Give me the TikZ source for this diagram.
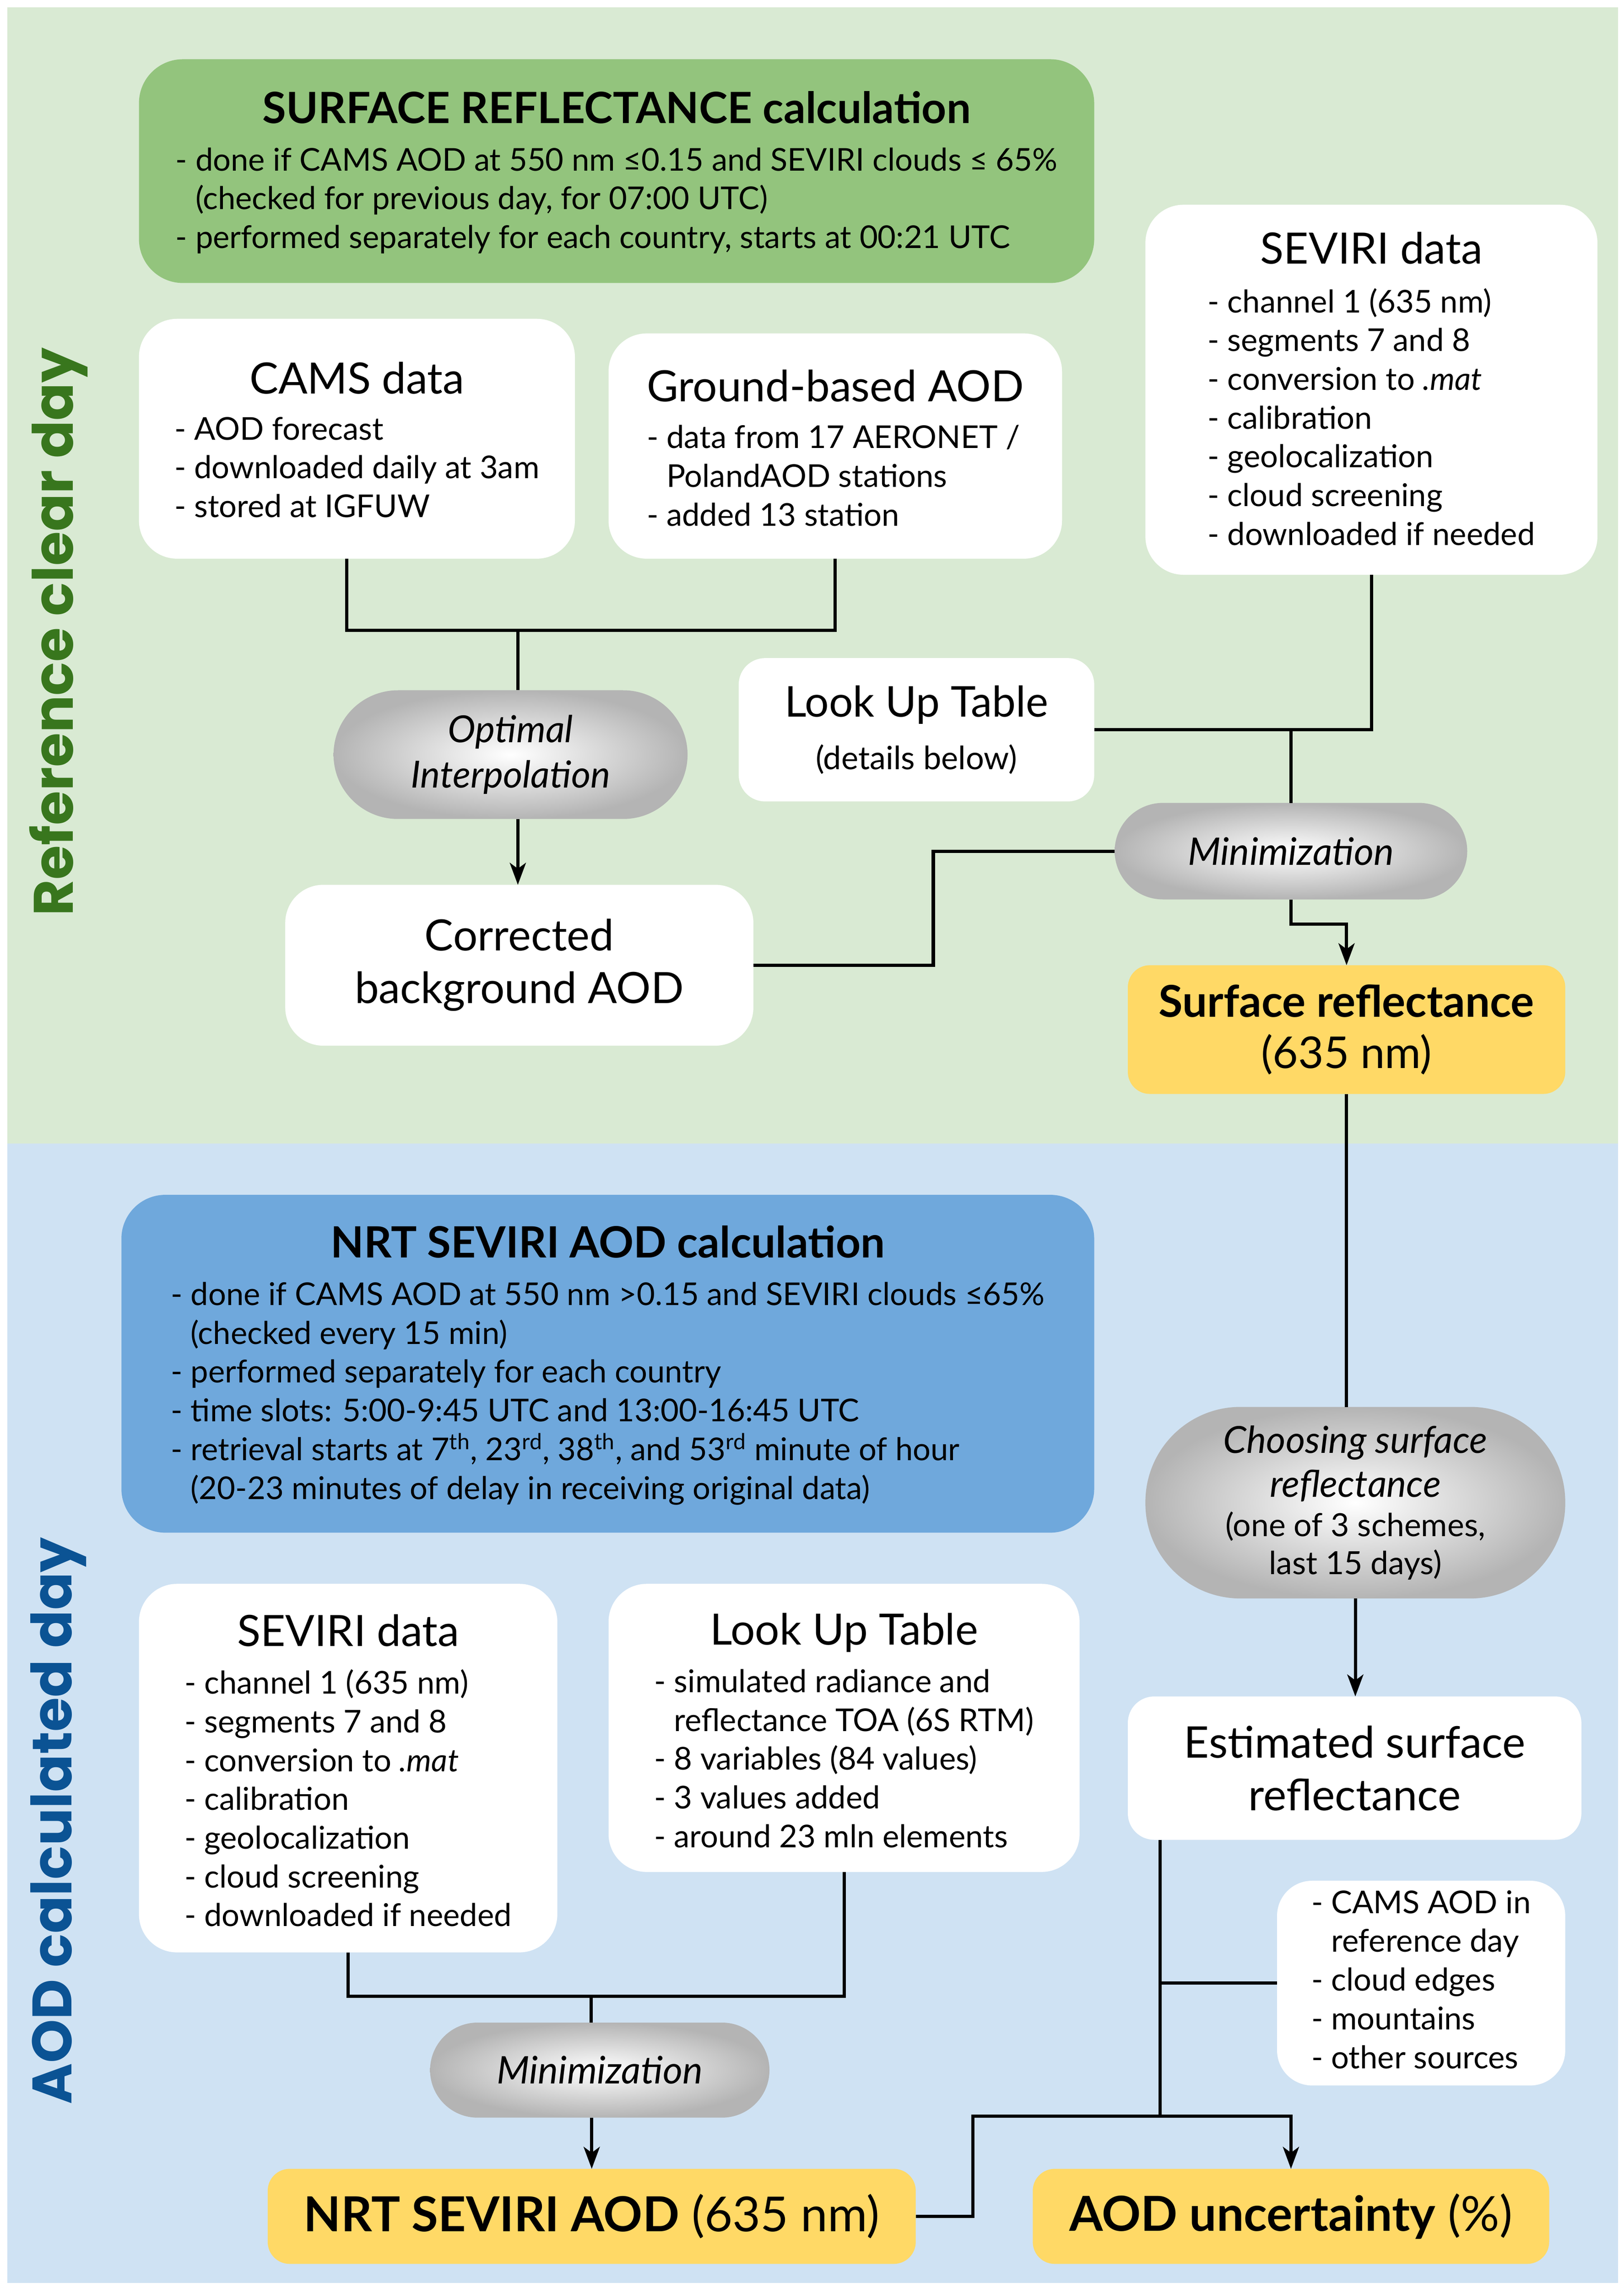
\documentclass[tikz,border=0pt]{standalone}
\usepackage{fontspec}
\setmainfont{Lato}
\newfontfamily\sidefont{Poppins}
\usetikzlibrary{arrows.meta}

\definecolor{bggreen}{HTML}{D9EAD3}
\definecolor{bgblue}{HTML}{CFE2F3}
\definecolor{ttlgreen}{HTML}{93C47D}
\definecolor{ttlblue}{HTML}{6FA8DC}
\definecolor{resyellow}{HTML}{FFD966}
\definecolor{sidegreen}{HTML}{38761D}
\definecolor{sideblue}{HTML}{0B5394}
\definecolor{pillgray}{HTML}{B4B4B4}

\newcommand{\ttl}{\fontsize{29.5}{34}\selectfont}
\newcommand{\cont}{\phantom{- }}
\newcommand{\smallpar}{\upshape\fontsize{21.8}{26}\selectfont}
\newcommand{\boxlist}[4][31pt]{\begin{tabular}{@{}l@{}}\multicolumn{1}{@{}c@{}}{\rule{0pt}{#1}#2}\\[#3]#4\end{tabular}}

\begin{document}
\begin{tikzpicture}[x=1pt,y=-1pt,
  line width=2.2pt,
  wbox/.style={fill=white, rounded corners=26pt, outer sep=0pt, inner sep=0pt},
  ttlbox/.style={rounded corners=30pt, outer sep=0pt, inner sep=0pt},
  ybox/.style={fill=resyellow, rounded corners=15pt, outer sep=0pt, inner sep=0pt},
  pill/.style={shading=radial, inner color=white, outer color=pillgray, outer sep=0pt, inner sep=0pt},
  body/.style={font=\fontsize{21.5}{26.5}\selectfont},
  arr/.style={-{Stealth[length=15pt,width=11pt,inset=4pt]}}]

% panels
\useasboundingbox[fill=white] (0,0) rectangle (1110,1564.5);
\fill[bggreen] (5,5) rectangle (1106,782);
\fill[bgblue] (5,782) rectangle (1106,1561);

\node[rotate=90, text=sidegreen, font=\sidefont\bfseries\fontsize{38}{38}\selectfont] (refday) at (40,432) {Reference clear day};
\node[rotate=90, text=sideblue, font=\sidefont\bfseries\fontsize{38}{38}\selectfont] (aodday) at (40,1245) {AOD calculated day};

% reference clear day
\node[ttlbox, fill=ttlgreen, minimum width=653pt, minimum height=153pt, body] (srcalc) at (421.5,117)
  {\boxlist[28pt]{\ttl\bfseries SURFACE REFLECTANCE calculation}{6pt}{%
   - done if CAMS AOD at 550 nm ≤0.15 and SEVIRI clouds ≤ 65\%\\
   \cont(checked for previous day, for 07:00 UTC)\\
   - performed separately for each country, starts at 00:21 UTC}};

\node[wbox, minimum width=298pt, minimum height=164pt, body] (cams) at (244,300)
  {\boxlist{\ttl CAMS data}{5pt}{%
   - AOD forecast\\
   - downloaded daily at 3am\\
   - stored at IGFUW}};

\node[wbox, minimum width=310pt, minimum height=154pt, body] (gbaod) at (571,305)
  {\boxlist[32pt]{\ttl Ground-based AOD}{5.5pt}{%
   - data from 17 AERONET /\\
   \cont PolandAOD stations\\
   - added 13 station}};

\node[wbox, minimum width=309pt, minimum height=253pt, body] (seviria) at (937.5,266.5)
  {\boxlist[28pt]{\ttl SEVIRI data}{7pt}{%
   - channel 1 (635 nm)\\
   - segments 7 and 8\\
   - conversion to \textit{.mat}\\
   - calibration\\
   - geolocalization\\
   - cloud screening\\
   - downloaded if needed}};

\node[pill, rounded corners=44pt, minimum width=242pt, minimum height=88pt, align=center,
  font=\itshape\fontsize{25.5}{31}\selectfont] (optint) at (349,516) {Optimal\\Interpolation};

\node[wbox, minimum width=320pt, minimum height=110pt, align=center,
  font=\fontsize{29.5}{36}\selectfont] (corraod) at (355,660) {Corrected\\background AOD};

\node[wbox, rounded corners=18pt, minimum width=243pt, minimum height=98pt, align=center,
  font=\fontsize{29}{36}\selectfont] (luta) at (626.5,499)
  {Look Up Table\\{\fontsize{22}{26}\selectfont (details below)}};

\node[pill, rounded corners=33pt, minimum width=241pt, minimum height=66pt,
  font=\itshape\fontsize{26}{30}\selectfont] (mina) at (882.5,582) {Minimization};

\node[ybox, minimum width=299pt, minimum height=88pt, align=center,
  font=\fontsize{30}{35}\selectfont] (sref) at (920.5,704) {\textbf{Surface reflectance}\\(635 nm)};

% AOD calculated day
\node[ttlbox, fill=ttlblue, minimum width=665pt, minimum height=231pt, body] (nrtcalc) at (415.5,932.5)
  {\boxlist[28pt]{\ttl\bfseries NRT SEVIRI AOD calculation}{6pt}{%
   - done if CAMS AOD at 550 nm >0.15 and SEVIRI clouds ≤65\%\\
   \cont(checked every 15 min)\\
   - performed separately for each country\\
   - time slots: 5:00-9:45 UTC and 13:00-16:45 UTC\\
   - retrieval starts at 7\textsuperscript{th}, 23\textsuperscript{rd}, 38\textsuperscript{th}, and 53\textsuperscript{rd} minute of hour\\
   \cont(20-23 minutes of delay in receiving original data)}};

\node[pill, rounded corners=65pt, minimum width=287pt, minimum height=131pt, align=center,
  font=\itshape\fontsize{25.5}{30}\selectfont] (choose) at (926.5,1027.5)
  {Choosing surface\\reflectance\\[-3pt]\smallpar (one of 3 schemes,\\[-4pt]\smallpar last 15 days)};

\node[wbox, rounded corners=18pt, minimum width=310pt, minimum height=98pt, align=center,
  font=\fontsize{29.8}{36}\selectfont] (estref) at (926,1209) {Estimated surface\\reflectance};

\node[wbox, minimum width=286pt, minimum height=252pt, body] (sevirib) at (238,1209)
  {\boxlist[33pt]{\ttl SEVIRI data}{6pt}{%
   - channel 1 (635 nm)\\
   - segments 7 and 8\\
   - conversion to \textit{.mat}\\
   - calibration\\
   - geolocalization\\
   - cloud screening\\
   - downloaded if needed}};

\node[wbox, minimum width=322pt, minimum height=197pt, body] (lutb) at (577,1181.5)
  {\boxlist[33pt]{\ttl Look Up Table}{6pt}{%
   - simulated radiance and\\
   \cont reflectance TOA (6S RTM)\\
   - 8 variables (84 values)\\
   - 3 values added\\
   - around 23 mln elements}};

\node[wbox, rounded corners=24pt, minimum width=197pt, minimum height=140pt, body] (notes) at (971.5,1356)
  {\begin{tabular}{@{}l@{}}
   - CAMS AOD in\\
   \cont reference day\\
   - cloud edges\\
   - mountains\\
   - other sources
   \end{tabular}};

\node[pill, rounded corners=32.5pt, minimum width=232pt, minimum height=65pt,
  font=\itshape\fontsize{26}{30}\selectfont] (minb) at (410,1415.5) {Minimization};

\node[ybox, minimum width=443pt, minimum height=65pt,
  font=\fontsize{33}{38}\selectfont] (nrtaod) at (404.5,1515.5) {\textbf{NRT SEVIRI AOD} (635 nm)};

\node[ybox, minimum width=353pt, minimum height=65pt,
  font=\fontsize{33}{38}\selectfont] (aodunc) at (882.5,1515.5) {\textbf{AOD uncertainty} (\%)};

% connectors, top
\coordinate (ja) at (354,431);
\draw ([xshift=-7pt]cams.south) |- (ja) -| (gbaod.south);
\draw (ja) -- (ja |- optint.north);
\draw[arr] (ja |- optint.south) -- (ja |- corraod.north);

\draw (seviria.south) |- (luta.east);
\coordinate (jb) at (mina.north |- luta.east);
\draw (jb) -- (mina.north);
\draw (mina.west) -- ++(-124,0) |- (corraod.east);
\draw[arr] (mina.south) -- ++(0,17) -| (sref.north);
\draw (sref.south) -- (sref.south |- choose.north);

% connectors, bottom
\draw[arr] (choose.south) -- (choose.south |- estref.north);

\coordinate (jc) at (404,1365);
\draw (sevirib.south) |- (jc) -| (lutb.south);
\draw (jc) -- (jc |- minb.north);
\draw[arr] (nrtaod.north |- minb.south) -- (nrtaod.north);

\coordinate (jd) at (793,1447);
\coordinate (je) at (665,1447);
\draw ([xshift=22pt]estref.south west) -- (jd);
\draw (jd |- notes.west) -- (notes.west);
\draw[arr] (jd) -| (aodunc.north);
\draw (jd) -- (je) |- (nrtaod.east);

\end{tikzpicture}
\end{document}
